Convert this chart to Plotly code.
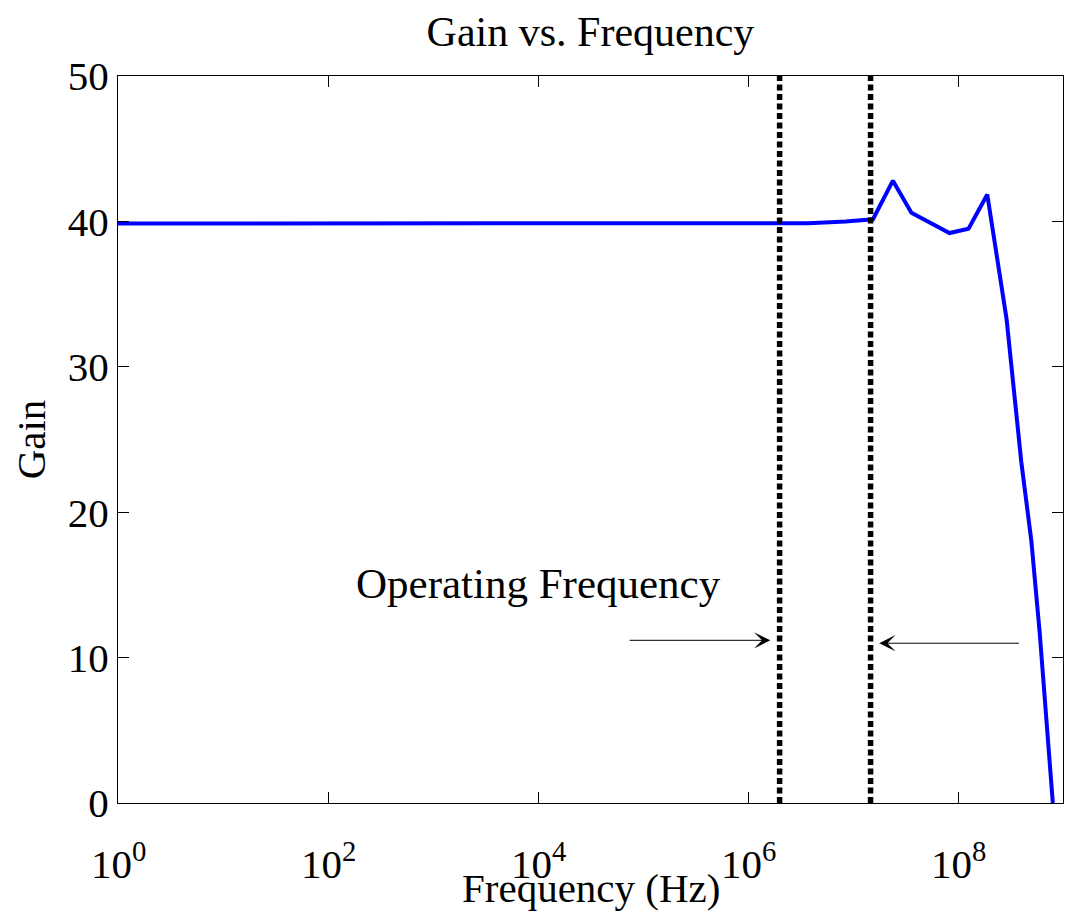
import math
import plotly.graph_objects as go

# ---- data ----
freq_hz = [1, 10, 100, 1e3, 1e4, 1e5, 1e6, 3.75e6, 8.5e6, 1.55e7, 2.4e7, 3.6e7,
           8.3e7, 1.26e8, 1.9e8, 2.9e8, 4e8, 5e8, 6e8, 7e8, 8e8]
gain = [39.85, 39.85, 39.85, 39.85, 39.85, 39.85, 39.85, 39.88, 40.0, 40.15, 42.8, 40.6,
        39.2, 39.5, 41.85, 33.3, 23.5, 18.0, 11.7, 5.0, 0.0]

operating_freqs = [2.0e6, 1.47e7]   # dashed markers
y_span = [0, 50]

x_tick_vals = [1, 1e2, 1e4, 1e6, 1e8]
x_tick_text = ["10<sup>0</sup>", "10<sup>2</sup>", "10<sup>4</sup>", "10<sup>6</sup>", "10<sup>8</sup>"]
y_tick_vals = [0, 10, 20, 30, 40, 50]

title_text = "Gain vs. Frequency"
x_title = "Frequency (Hz)"
y_title = "Gain"
label_text = "Operating Frequency"

FONT = "Liberation Serif"
PLOT_TOP, PLOT_BOTTOM = 76, 803
PLOT_H = PLOT_BOTTOM - PLOT_TOP


def paper_y(px):
    return (PLOT_BOTTOM - px) / PLOT_H


fig = go.Figure()
fig.add_trace(go.Scatter(x=freq_hz, y=gain, mode="lines",
                         line=dict(color="#0000ff", width=4), showlegend=False,
                         hoverinfo="skip"))
for f in operating_freqs:
    fig.add_trace(go.Scatter(x=[f, f], y=y_span, mode="lines",
                             line=dict(color="black", width=5.5, dash="6px,3.5px"),
                             showlegend=False, hoverinfo="skip"))

# annotation text + arrows (log10 coordinates for annotations on log axis)
fig.add_annotation(x=4.0, y=15.1, xref="x", yref="y", text=label_text, showarrow=False,
                   font=dict(family=FONT, size=43, color="black"))
fig.add_annotation(x=6.212, y=11.19, ax=4.859, ay=11.19, xref="x", yref="y",
                   axref="x", ayref="y", text="", showarrow=True, arrowhead=3,
                   arrowsize=2.7, arrowwidth=1, arrowcolor="black", standoff=0)
fig.add_annotation(x=7.25, y=10.99, ax=8.594, ay=10.99, xref="x", yref="y",
                   axref="x", ayref="y", text="", showarrow=True, arrowhead=3,
                   arrowsize=2.7, arrowwidth=1, arrowcolor="black", standoff=0)

# x tick labels drawn as annotations so they can sit lower, as in the reference
for v, t in zip(x_tick_vals, x_tick_text):
    fig.add_annotation(x=math.log10(v), y=paper_y(861), xref="x", yref="paper",
                       text=t, showarrow=False, xanchor="center", yanchor="middle",
                       font=dict(family=FONT, size=41, color="black"))

# x-axis title
fig.add_annotation(x=0.5, y=paper_y(888), xref="paper", yref="paper",
                   text=x_title, showarrow=False, xanchor="center", yanchor="middle",
                   font=dict(family=FONT, size=41, color="black"))

axis_common = dict(showline=True, linecolor="black", linewidth=1, mirror="ticks",
                   ticks="inside", ticklen=11, tickwidth=1, tickcolor="black",
                   showgrid=False, zeroline=False,
                   tickfont=dict(family=FONT, size=41, color="black"))

fig.update_xaxes(type="log", range=[0, 9], tickvals=x_tick_vals, ticktext=x_tick_text,
                 showticklabels=False, **axis_common)
fig.update_yaxes(range=y_span, tickvals=y_tick_vals,
                 title=dict(text=y_title, font=dict(family=FONT, size=41, color="black"),
                            standoff=9),
                 **axis_common)

fig.update_layout(
    width=1069, height=914,
    margin=dict(l=118, r=6, t=PLOT_TOP, b=914 - PLOT_BOTTOM, autoexpand=False),
    paper_bgcolor="white", plot_bgcolor="white",
    title=dict(text=title_text, x=0.5, xref="paper", y=1 - 31 / 914, yref="container",
               yanchor="middle", xanchor="center",
               font=dict(family=FONT, size=42, color="black")),
)

fig.write_html("out.html", config={"displayModeBar": False},
               post_script="document.body.style.margin='0px';document.body.style.overflow='hidden';")
